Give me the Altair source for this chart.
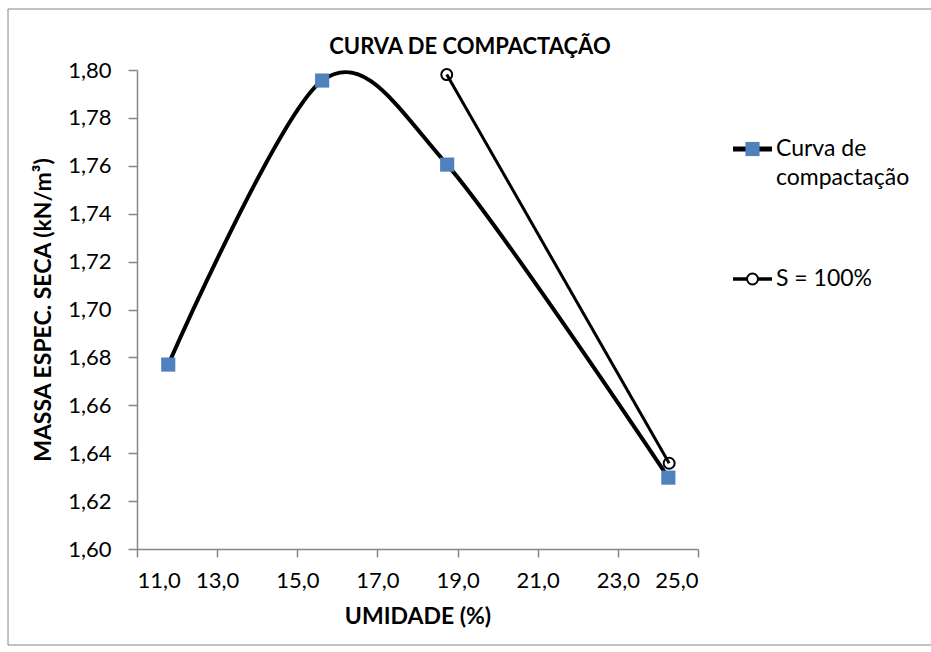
import altair as alt
import pandas as pd

# ---- data ----
umidade = [11.78, 15.62, 18.74, 24.26]
massa = [1.677, 1.7956, 1.7605, 1.6298]
s100_umidade = [18.73, 24.28]
s100_massa = [1.7981, 1.6358]
x_ticks = [11, 13, 15, 17, 19, 21, 23, 25]
y_ticks = [1.60, 1.62, 1.64, 1.66, 1.68, 1.70, 1.72, 1.74, 1.76, 1.78, 1.80]
legend_labels = ["Curva de\ncompactação", "S = 100%"]
chart_title = "CURVA DE COMPACTAÇÃO"

W, H = 561, 479
LEFT, TOP = 137, 70
FONT = "Lato"
GRAY = "#868686"
BLUE = "#4F81BD"

curve = pd.DataFrame({"u": umidade, "m": massa})
sat = pd.DataFrame({"u": s100_umidade, "m": s100_massa})

xs = alt.Scale(domain=[11, 25], nice=False, zero=False)
ys = alt.Scale(domain=[1.60, 1.80], nice=False, zero=False)

x_enc = alt.X("u:Q", scale=xs, axis=alt.Axis(
    values=x_ticks, title="UMIDADE (%)", grid=False,
    labelExpr="replace(format(datum.value, '.1f'), '.', ',')",
    tickSize=8, labelPadding=13, titlePadding=14))
y_enc = alt.Y("m:Q", scale=ys, axis=alt.Axis(
    values=y_ticks, title="MASSA ESPEC. SECA (kN/m³)", grid=False,
    labelExpr="replace(format(datum.value, '.2f'), '.', ',')",
    tickSize=9, labelPadding=17, titlePadding=12))

one = pd.DataFrame({"a": [0]})
border = alt.Chart(one).mark_rect(filled=False, stroke=GRAY, strokeWidth=1).encode(
    x=alt.value(8 - LEFT), x2=alt.value(940 - LEFT),
    y=alt.value(9 - TOP), y2=alt.value(645 - TOP))

title_txt = alt.Chart(one).mark_text(
    text=chart_title, font=FONT, fontSize=22, fontWeight="bold",
    align="center", baseline="middle", color="black").encode(
    x=alt.value(470 - LEFT), y=alt.value(47 - TOP))

curve_line = alt.Chart(curve).mark_line(
    interpolate="cardinal", tension=0.1, color="black", strokeWidth=4).encode(x=x_enc, y=y_enc)
curve_pts = alt.Chart(curve).mark_point(
    shape="square", filled=True, color=BLUE, size=200, opacity=1).encode(x=x_enc, y=y_enc)
sat_line = alt.Chart(sat).mark_line(color="black", strokeWidth=3).encode(x=x_enc, y=y_enc)
sat_pts = alt.Chart(sat).mark_point(
    shape="circle", filled=False, stroke="black", strokeWidth=2, size=120, opacity=1
).encode(x=x_enc, y=y_enc)

# ---- manual legend (Excel style) ----
LX0, LX1 = 733 - LEFT, 772 - LEFT
LY1, LY2 = 149 - TOP, 279 - TOP
leg1_line = alt.Chart(one).mark_rule(color="black", strokeWidth=5).encode(
    x=alt.value(LX0), x2=alt.value(LX1), y=alt.value(LY1))
leg1_pt = alt.Chart(one).mark_point(
    shape="square", filled=True, color=BLUE, size=200, opacity=1).encode(
    x=alt.value((LX0 + LX1) / 2), y=alt.value(LY1))
leg1_txt = alt.Chart(one).mark_text(
    text=legend_labels[0], align="left", baseline="middle", font=FONT, fontSize=23,
    lineBreak="\n", lineHeight=29, color="black").encode(
    x=alt.value(LX1 + 4), y=alt.value(LY1))
leg2_line = alt.Chart(one).mark_rule(color="black", strokeWidth=3.5).encode(
    x=alt.value(LX0), x2=alt.value(LX1), y=alt.value(LY2))
leg2_pt = alt.Chart(one).mark_point(
    shape="circle", filled=True, fill="white", stroke="black", strokeWidth=2, size=120,
    opacity=1).encode(x=alt.value((LX0 + LX1) / 2), y=alt.value(LY2))
leg2_txt = alt.Chart(one).mark_text(
    text=legend_labels[1], align="left", baseline="middle", font=FONT, fontSize=23,
    color="black").encode(x=alt.value(LX1 + 4), y=alt.value(LY2))

chart = alt.layer(
    border, title_txt, curve_line, sat_line, curve_pts, sat_pts,
    leg1_line, leg1_pt, leg1_txt, leg2_line, leg2_pt, leg2_txt
).properties(
    width=W, height=H,
    autosize=alt.AutoSizeParams(type="none"),
    padding={"left": LEFT, "top": TOP, "right": 931 - LEFT - W, "bottom": 652 - TOP - H},
).configure_view(stroke=None).configure_axis(
    domainColor=GRAY, tickColor=GRAY, domainWidth=1.5, tickWidth=1.5,
    labelFont=FONT, labelFontSize=22, labelColor="black",
    titleFont=FONT, titleFontSize=23, titleFontWeight="bold", titleColor="black"
)

chart.save("out.html", embed_options={"renderer": "svg", "actions": False})
